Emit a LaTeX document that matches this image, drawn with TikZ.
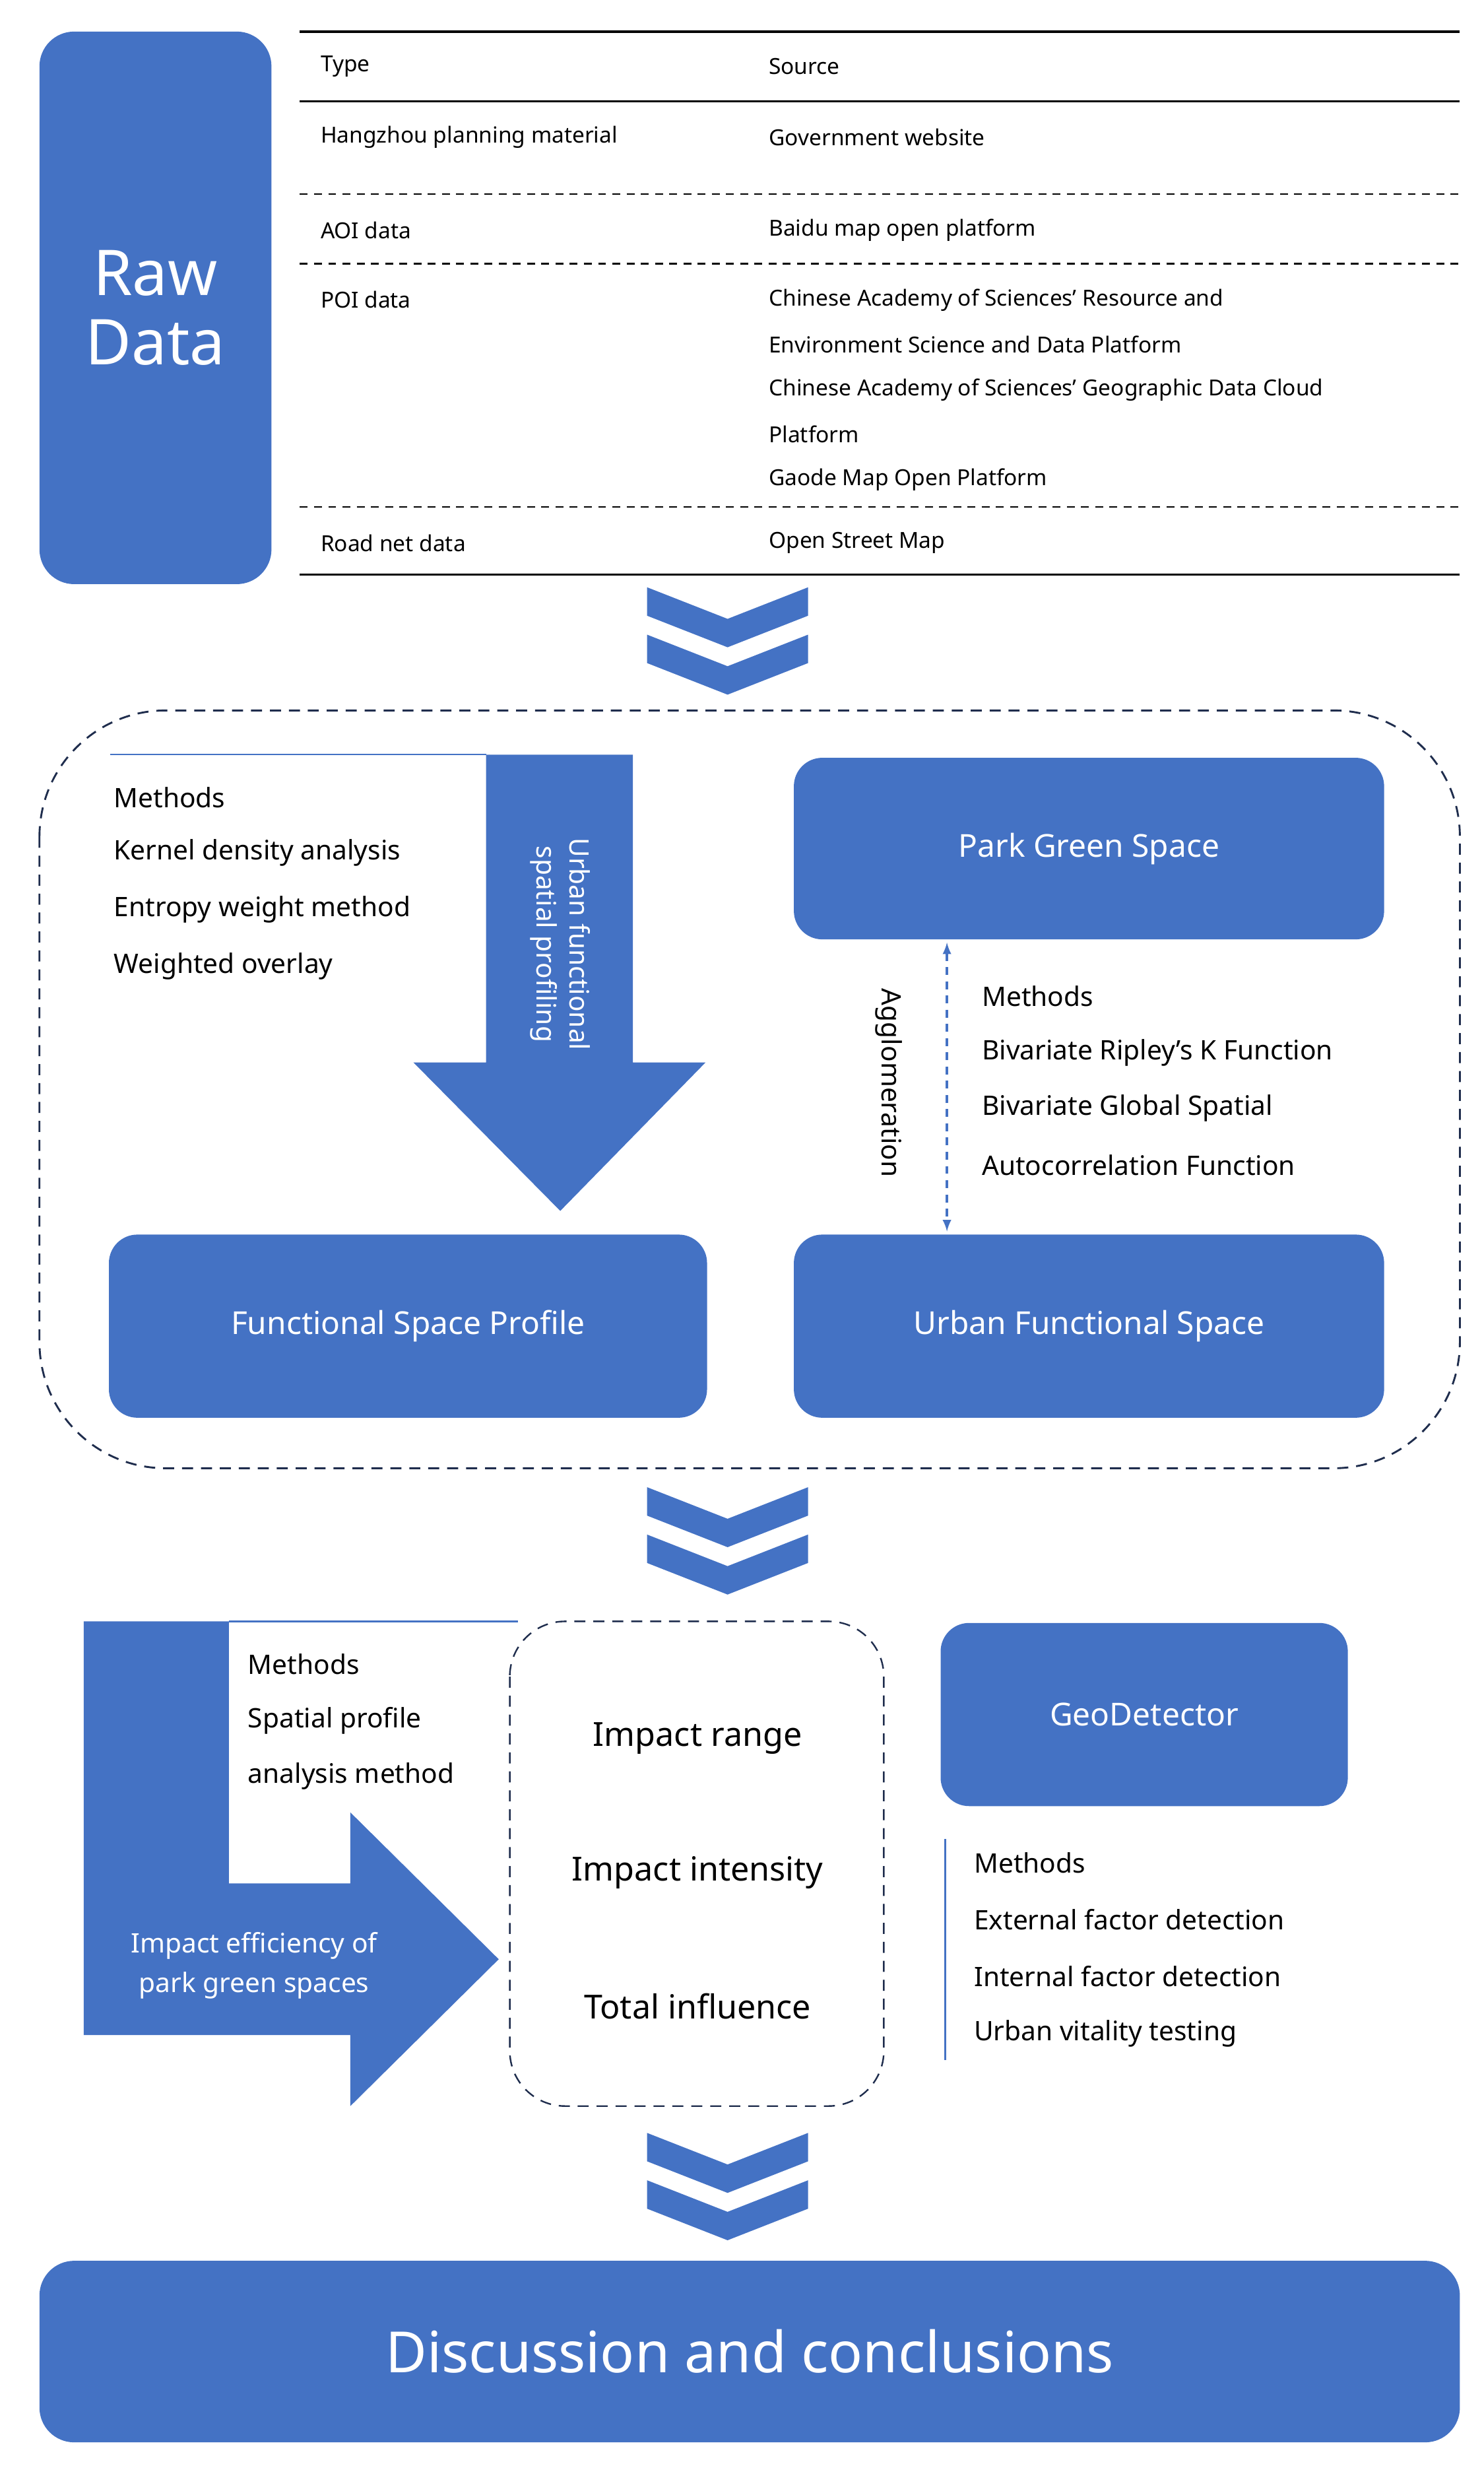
\documentclass[tikz,border=0pt]{standalone}
\usepackage{fontspec}
\setmainfont{Noto Sans}
\begin{document}
\begin{tikzpicture}[x=1pt,y=-1pt,
  blu/.style={fill=bl,draw=none},
  box/.style={blu,rounded corners=18pt},
  wt/.style={text=white,font=\bfseries\fontsize{20}{24}\selectfont},
  tt/.style={anchor=west,font=\fontsize{14}{17}\selectfont,inner sep=0},
  mt/.style={anchor=west,font=\fontsize{17}{20}\selectfont,inner sep=0},
  dsh/.style={dashed,line width=1.2pt,draw=dk,dash pattern=on 7pt off 5pt}]
\definecolor{bl}{HTML}{4472C4}
\definecolor{dk}{HTML}{1F2D4D}
\useasboundingbox (0,0) rectangle (940,1562);
\newcommand{\chev}[1]{%
 \fill[bl] (410,#1)--(461,#1+20)--(512,#1)--(512,#1+18)--(461,#1+38)--(410,#1+18)--cycle;
 \fill[bl] (410,#1+30)--(461,#1+50)--(512,#1+30)--(512,#1+48)--(461,#1+68)--(410,#1+48)--cycle;}
% Raw data
\node[box,minimum width=147pt,minimum height=350pt,rounded corners=22pt] (raw) at (98.5,195) {};
\node[text=white,font=\bfseries\fontsize{40}{44}\selectfont,align=center] (rawt) at (98.5,195) {Raw\\Data};
% table
\draw[line width=1.5pt] (190,20)--(925,20);
\draw[line width=1.2pt] (190,64)--(925,64);
\draw[line width=1.2pt] (190,364)--(925,364);
\foreach \y in {123,167,321} \draw[line width=1pt,dash pattern=on 5pt off 4pt] (190,\y)--(925,\y);
\node[tt,font=\bfseries\fontsize{14}{17}\selectfont] (h1) at (203,42) {Type};
\node[tt,font=\bfseries\fontsize{14}{17}\selectfont] (h2) at (487,42) {Source};
\node[tt] (a1) at (203,87) {Hangzhou planning material};
\node[tt] (b1) at (487,87) {Government website};
\node[tt] (a2) at (203,146) {AOI data};
\node[tt] (b2) at (487,146) {Baidu map open platform};
\node[tt] (a3) at (203,190) {POI data};
\node[tt] (b3) at (487,190) {Chinese Academy of Sciences' Resource and};
\node[tt] (b4) at (487,218) {Environment Science and Data Platform};
\node[tt] (b5) at (487,247) {Chinese Academy of Sciences' Geographic Data Cloud};
\node[tt] (b6) at (487,275) {Platform};
\node[tt] (b7) at (487,304) {Gaode Map Open Platform};
\node[tt] (a4) at (203,344) {Road net data};
\node[tt] (b8) at (487,344) {Open Street Map};
\chev{372}
% middle section
\draw[dsh,rounded corners=80pt] (25,450) rectangle (925,930);
\draw[bl,line width=1pt] (70,478)--(308,478);
\node[mt,font=\bfseries\fontsize{17}{20}\selectfont] (m0) at (72,505) {Methods};
\node[mt] (m1) at (72,540) {Kernel density analysis};
\node[mt] (m2) at (72,576) {Entropy weight method};
\node[mt] (m3) at (72,612) {Weighted overlay};
\fill[bl] (308,478)--(401,478)--(401,673)--(447,673)--(355,767)--(262,673)--(308,673)--cycle;
\node[wt,rotate=-90,align=center,font=\bfseries\fontsize{17}{21}\selectfont] (ufsp) at (355,598) {Urban functional\\spatial profiling};
\node[box,minimum width=374pt,minimum height=115pt] (pgs) at (690,537.5) {};
\node[wt] at (pgs) {Park Green Space};
\node[box,minimum width=374pt,minimum height=116pt] (ufs) at (690,840) {};
\node[wt] at (ufs) {Urban Functional Space};
\node[box,minimum width=379pt,minimum height=116pt] (fsp) at (258.5,840) {};
\node[wt] at (fsp) {Functional Space Profile};
\draw[bl,line width=1.5pt,dash pattern=on 5pt off 4pt,<->,>=latex] (600,597)--(600,780);
\node[rotate=-90,font=\bfseries\fontsize{17}{20}\selectfont] (agg) at (563,686) {Agglomeration};
\node[mt,font=\bfseries\fontsize{17}{20}\selectfont] (n0) at (622,631) {Methods};
\node[mt] (n1) at (622,667) {Bivariate Ripley's K Function};
\node[mt] (n2) at (622,702) {Bivariate Global Spatial};
\node[mt] (n3) at (622,738) {Autocorrelation Function};
\chev{942}
% lower section
\fill[bl] (53,1027)--(145,1027)--(145,1193)--(222,1193)--(222,1148)--(316,1241)--(222,1334)--(222,1289)--(53,1289)--cycle;
\node[wt,align=center,font=\bfseries\fontsize{17}{21}\selectfont] (ie) at (161,1245) {Impact efficiency of\\[4pt]park green spaces};
\draw[bl,line width=1pt] (145,1027)--(328,1027);
\node[mt,font=\bfseries\fontsize{17}{20}\selectfont] (p0) at (157,1054) {Methods};
\node[mt] (p1) at (157,1090) {Spatial profile};
\node[mt] (p2) at (157,1125) {analysis method};
\draw[dsh,line width=1pt,rounded corners=35pt] (323,1027) rectangle (560,1334);
\node[font=\fontsize{21}{25}\selectfont] (ir) at (442,1101) {Impact range};
\node[font=\fontsize{21}{25}\selectfont] (ii) at (442,1186) {Impact intensity};
\node[font=\fontsize{21}{25}\selectfont] (ti) at (442,1271) {Total influence};
\node[box,minimum width=258pt,minimum height=116pt] (geo) at (725,1086) {};
\node[wt] at (geo) {GeoDetector};
\draw[bl,line width=1.2pt] (599,1165)--(599,1305);
\node[mt,font=\bfseries\fontsize{17}{20}\selectfont] (g0) at (617,1180) {Methods};
\node[mt] (g1) at (617,1216) {External factor detection};
\node[mt] (g2) at (617,1252) {Internal factor detection};
\node[mt] (g3) at (617,1288) {Urban vitality testing};
\chev{1351}
\node[box,minimum width=900pt,minimum height=115pt,rounded corners=22pt] (dc) at (475,1489.5) {};
\node[wt,font=\bfseries\fontsize{36}{40}\selectfont] at (dc) {Discussion and conclusions};
\end{tikzpicture}
\end{document}
